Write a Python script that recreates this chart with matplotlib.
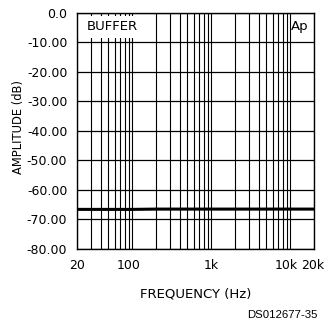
import numpy as np
import matplotlib
matplotlib.use("Agg")
import matplotlib.pyplot as plt
from matplotlib.patches import Rectangle
from matplotlib.transforms import ScaledTranslation
from matplotlib.ticker import FixedLocator, NullFormatter

# Measured response of the buffer stage
freq_hz = [20, 50, 100, 200, 500, 1000, 2000, 5000, 10000, 20000]
amplitude_db = [-66.6, -66.6, -66.6, -66.5, -66.5, -66.5, -66.5, -66.5, -66.5, -66.5]

x_ticks = [20, 100, 1000, 10000, 20000]
x_tick_labels = ["20", "100", "1k", "10k", "20k"]
y_ticks = [0, -10, -20, -30, -40, -50, -60, -70, -80]
y_tick_labels = ["0.0", "-10.00", "-20.00", "-30.00", "-40.00",
                 "-50.00", "-60.00", "-70.00", "-80.00"]

plt.rcParams['font.family'] = ['DejaVu Sans']

W, H = 329, 322
L, R, T, B = 77, 314, 12.5, 249
fig = plt.figure(figsize=(W / 100, H / 100), dpi=100)
ax = fig.add_axes([L / W, 1 - B / H, (R - L) / W, (B - T) / H])

ax.set_xscale("log")
ax.set_xlim(20, 20000)
ax.set_ylim(-80, 0)
ax.set_axisbelow(True)

# Log grid: every decade subdivision
minor = [m * d for d in (10, 100, 1000) for m in range(2, 10)]
minor = [v for v in minor if 20 < v < 20000]
ax.xaxis.set_major_locator(FixedLocator(x_ticks))
ax.xaxis.set_minor_locator(FixedLocator(minor))
ax.xaxis.set_minor_formatter(NullFormatter())
ax.set_xticklabels(x_tick_labels)
ax.set_yticks(y_ticks)
ax.set_yticklabels(y_tick_labels)

ax.grid(True, which="both", axis="x", color="black", linewidth=0.8)
ax.grid(True, which="major", axis="y", color="black", linewidth=0.9)

ax.tick_params(which="both", length=0, labelsize=9, colors="black")
ax.tick_params(axis="y", pad=7)
ax.tick_params(axis="x", pad=7)

# Nudge the crowded frequency labels slightly left
nudge_px = {"100": -4, "10k": -4, "20k": -1}
for lbl in ax.get_xticklabels():
    dx = nudge_px.get(lbl.get_text(), 0)
    if dx:
        lbl.set_transform(lbl.get_transform() +
                          ScaledTranslation(dx / 100, 0, fig.dpi_scale_trans))

for s in ax.spines.values():
    s.set_linewidth(1.0)
    s.set_color("black")

ax.plot(freq_hz, amplitude_db, color="black", linewidth=2.2,
        solid_capstyle="butt", zorder=3)

# Label box in the upper left corner
ax.add_patch(Rectangle((0, 0.891), 0.26, 0.096, transform=ax.transAxes,
                       facecolor="white", edgecolor="none", zorder=1))
ax.text(0.042, -6.05, "BUFFER", transform=ax.get_yaxis_transform(),
        fontsize=9.5, ha="left", va="baseline", zorder=4)
ax.text(0.975, -6.05, "Ap", transform=ax.get_yaxis_transform(),
        fontsize=9.5, ha="right", va="baseline", zorder=4)

fig.text(196 / W, 1 - 294 / H, "FREQUENCY (Hz)", fontsize=9.5,
         ha="center", va="center")
fig.text(19 / W, 1 - 127 / H, "AMPLITUDE (dB)", fontsize=8.3,
         rotation=90, ha="center", va="center")

fig.text(318 / W, 1 - 315 / H, "DS012677-35", family="Liberation Sans",
         fontsize=8.2, ha="right", va="center")

fig.savefig("out.png", dpi=100, facecolor="white")
